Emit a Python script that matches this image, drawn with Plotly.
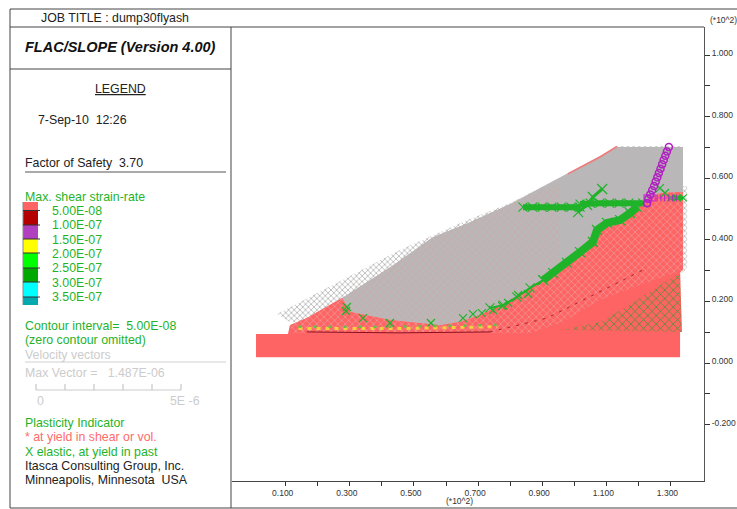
import plotly.graph_objects as go

W, H = 737, 509
FONT = "Liberation Sans"
SALMON = "#ff6464"
GREEN = "#1fb32a"
GRAY = "#b9b7b7"
PURPLE = "#b020c0"

# mesh regions (units of *10^2)
fringe_x = [0.073, 0.456, 0.581, 0.666, 0.80, 0.955, 1.08, 1.133, 1.339, 1.339, 1.352, 1.352, 1.339, 0.80, 0.30, 0.113]
fringe_y = [0.159, 0.367, 0.425, 0.464, 0.519, 0.601, 0.669, 0.705, 0.705, 0.575, 0.575, 0.310, 0.295, 0.20, 0.12, 0.133]
dense_x = [0.276, 0.425, 0.559, 0.666, 0.80, 1.133, 1.339, 1.339, 1.267, 1.214, 1.196, 1.121, 1.071, 1.018, 0.915, 0.809, 0.706, 0.643, 0.581, 0.425, 0.301]
dense_y = [0.211, 0.310, 0.408, 0.453, 0.516, 0.701, 0.701, 0.555, 0.552, 0.523, 0.497, 0.464, 0.432, 0.367, 0.279, 0.205, 0.156, 0.133, 0.123, 0.140, 0.166]
tint_x = [0.276, 0.425, 0.559, 0.666, 0.80, 0.955, 0.955, 0.809, 0.706, 0.643, 0.581, 0.425, 0.301]
tint_y = [0.211, 0.310, 0.408, 0.453, 0.516, 0.585, 0.305, 0.205, 0.156, 0.133, 0.123, 0.140, 0.166]
upper_x = [0.113, 0.166, 0.276, 0.301, 0.425, 0.581, 0.643, 0.706, 0.809, 0.915, 1.018, 1.071, 1.121, 1.196, 1.214, 1.267, 1.339]
upper_y = [0.123, 0.146, 0.211, 0.166, 0.140, 0.123, 0.133, 0.156, 0.205, 0.279, 0.367, 0.432, 0.464, 0.497, 0.523, 0.552, 0.555]
base_x = [0.0074, 0.107] + upper_x + [1.339, 1.330, 1.330, 0.0074]
base_y = [0.094, 0.094] + upper_y + [0.302, 0.295, 0.019, 0.019]
worked_x = upper_x + [1.339, 1.205, 1.080, 0.965, 0.862, 0.120]
worked_y = upper_y + [0.302, 0.253, 0.205, 0.133, 0.097, 0.097]
past_x = [0.965, 1.08, 1.196, 1.33, 1.336]
past_y = [0.107, 0.133, 0.205, 0.295, 0.101]
crest_x = [0.98, 1.08, 1.133]
crest_y = [0.614, 0.669, 0.703]

# green X plasticity marks
band_a_x = [0.84, 0.87, 0.90, 0.93, 0.96, 0.99, 1.018]
band_a_y = [0.506, 0.506, 0.506, 0.506, 0.506, 0.506, 0.506]
band_b_x = [1.018, 1.05, 1.08, 1.11, 1.14, 1.17, 1.214]
band_b_y = [0.516, 0.519, 0.519, 0.519, 0.519, 0.519, 0.519]
band_c_x = [1.30, 1.32, 1.34]
band_c_y = [0.536, 0.536, 0.536]
chain_x = [0.903, 0.934, 0.977, 1.018, 1.058, 1.071, 1.102, 1.143, 1.174, 1.196]
chain_y = [0.269, 0.292, 0.325, 0.360, 0.393, 0.432, 0.455, 0.464, 0.487, 0.506]
chain_low_x = [0.737, 0.778, 0.821, 0.862, 0.903]
chain_low_y = [0.179, 0.188, 0.214, 0.244, 0.269]
branch_x = [1.012, 1.04, 1.058, 1.087]
branch_y = [0.490, 0.513, 0.539, 0.565]
single_x = [0.291, 0.288, 0.341, 0.425, 0.553, 0.653, 0.684, 0.712, 0.747, 0.775, 0.794, 0.825, 0.856, 1.267, 1.283]
single_y = [0.182, 0.169, 0.146, 0.130, 0.130, 0.146, 0.159, 0.162, 0.172, 0.185, 0.195, 0.221, 0.224, 0.568, 0.552]

# contour traces
slip_x = [0.166, 0.45, 0.737]
slip_y = [0.101, 0.098, 0.101]
slip_far_x = [0.737, 0.915, 1.071, 1.214]
slip_far_y = [0.101, 0.146, 0.227, 0.302]
toe_x = [0.14, 0.45, 0.76]
toe_y = [0.112, 0.112, 0.118]
dots_x = [0.14, 0.45, 0.76]
dots_y = [0.118, 0.118, 0.124]

# purple structural elements
cable_x = [1.295, 1.289, 1.284, 1.279, 1.274, 1.269, 1.264, 1.259, 1.254, 1.249, 1.243, 1.237, 1.231, 1.227]
cable_y = [0.701, 0.687, 0.673, 0.659, 0.645, 0.631, 0.617, 0.603, 0.589, 0.575, 0.561, 0.547, 0.533, 0.519]
rod_x = [1.258, 1.27, 1.282, 1.295, 1.307, 1.318]
rod_y = [0.536, 0.536, 0.536, 0.536, 0.536, 0.536]
node_x = [1.227, 1.243, 1.227]
node_y = [0.519, 0.536, 0.536]

# axis ticks
x_ticks = [0.1, 0.2, 0.3, 0.4, 0.5, 0.6, 0.7, 0.8, 0.9, 1.0, 1.1, 1.2, 1.3]
x_labels = ["0.100", "", "0.300", "", "0.500", "", "0.700", "", "0.900", "", "1.100", "", "1.300"]
y_ticks = [-0.2, -0.1, 0.0, 0.1, 0.2, 0.3, 0.4, 0.5, 0.6, 0.7, 0.8, 0.9, 1.0]
y_labels = ["-0.200", "", "0.000", "", "0.200", "", "0.400", "", "0.600", "", "0.800", "", "1.000"]

# legend
legend_labels = ["5.00E-08", "1.00E-07", "1.50E-07", "2.00E-07", "2.50E-07", "3.00E-07", "3.50E-07"]
legend_colors = ["#ff6464", "#b40000", "#b040c0", "#ffff00", "#00ff00", "#00a800", "#00ffff", "#00a8b0"]


def px(x):
    return x / W


def py(y):
    return 1 - y / H


fig = go.Figure()


def region(xs, ys, bg, fg=None, size=6, solidity=0.3, opacity=1):
    kw = dict(x=xs, y=ys, mode="lines", fill="toself", line=dict(width=0), fillcolor=bg, hoverinfo="skip")
    if fg:
        kw["fillpattern"] = dict(shape="x", bgcolor=bg, fgcolor=fg, size=size, solidity=solidity, fgopacity=opacity)
    fig.add_trace(go.Scatter(**kw))


region(fringe_x, fringe_y, "#ffffff", "#bababa", 4, 0.4)
region(dense_x, dense_y, GRAY)
region(tint_x, tint_y, GRAY, "#e09c9c", 5, 0.18, 0.8)
region(base_x, base_y, SALMON)
region(worked_x, worked_y, SALMON, "#e8a4a4", 5, 0.22)
region(past_x, past_y, SALMON, "#18a020", 6, 0.2)
fig.add_trace(go.Scatter(x=crest_x, y=crest_y, mode="lines", line=dict(color="#f07a7a", width=1.5), hoverinfo="skip"))


def xmarks(xs, ys, width, size):
    fig.add_trace(go.Scatter(x=xs, y=ys, mode="lines+markers" if width else "markers",
                             line=dict(color=GREEN, width=width),
                             marker=dict(symbol="x-thin", size=size, line=dict(color=GREEN, width=1.2), color=GREEN),
                             hoverinfo="skip"))


xmarks(band_a_x, band_a_y, 6, 9)
xmarks(band_b_x, band_b_y, 6, 9)
xmarks(band_c_x, band_c_y, 4, 7)
xmarks(chain_x, chain_y, 8, 10)
xmarks(chain_low_x, chain_low_y, 2, 9)
xmarks(branch_x, branch_y, 3, 10)
xmarks(single_x, single_y, 0, 8)

fig.add_trace(go.Scatter(x=toe_x, y=toe_y, mode="lines", line=dict(color="#f2d23c", width=3, dash="4px,5px"), hoverinfo="skip"))
fig.add_trace(go.Scatter(x=dots_x, y=dots_y, mode="lines", line=dict(color="#62c04a", width=2.5, dash="3px,12px"), hoverinfo="skip"))
fig.add_trace(go.Scatter(x=slip_x, y=slip_y, mode="lines", line=dict(color="#8c0c1c", width=1), hoverinfo="skip"))
fig.add_trace(go.Scatter(x=slip_far_x, y=slip_far_y, mode="lines", line=dict(color="#b01c2c", width=1, dash="3px,6px"), hoverinfo="skip"))
fig.add_trace(go.Scatter(x=rod_x, y=rod_y, mode="lines+markers", line=dict(color="#e040e0", width=1),
                         marker=dict(symbol="line-ns", size=5, line=dict(color=PURPLE, width=1)), hoverinfo="skip"))
fig.add_trace(go.Scatter(x=node_x, y=node_y, mode="markers",
                         marker=dict(symbol="square-open", size=6, color="#d030d0", line=dict(width=1.2)), hoverinfo="skip"))
fig.add_trace(go.Scatter(x=cable_x, y=cable_y, mode="markers",
                         marker=dict(symbol="circle-open", size=7, color=PURPLE, line=dict(width=1.5)), hoverinfo="skip"))

shapes = []


def line(x0, y0, x1, y1, color="#444444", width=1):
    shapes.append(dict(type="line", xref="paper", yref="paper", x0=px(x0), y0=py(y0), x1=px(x1), y1=py(y1),
                       line=dict(color=color, width=width)))


line(10, 9, W, 9)
line(10, 9, 10, 508)
line(10, 508, W, 508)
line(10, 27, 704, 27)
line(231, 27, 231, 508)
line(10, 69, 231, 69)
line(25, 172, 226, 172, "#555555")
line(25, 362, 226, 362, "#d0d0d0")
line(36, 390, 181, 390, "#cccccc")
for tx in (36, 65, 94, 123, 152, 181):
    line(tx, 384, tx, 390, "#bbbbbb")

edges = [202, 210.5, 225, 239, 253, 268, 282, 297, 305]
for i, c in enumerate(legend_colors):
    shapes.append(dict(type="rect", xref="paper", yref="paper", x0=px(23), x1=px(38), y0=py(edges[i + 1]), y1=py(edges[i]),
                       fillcolor=c, line=dict(width=0)))
line(23, 202, 23, 305, "#888888")
for e in edges[1:-1]:
    line(23, e, 40, e, "#333333")

notes = []
BODY = 12.35


def text(x, y, s, color="#222222", size=BODY, anchor="left"):
    notes.append(dict(xref="paper", yref="paper", x=px(x), y=py(y), text=s, showarrow=False, xanchor=anchor, yanchor="middle",
                      font=dict(family=FONT, size=size, color=color), borderpad=0, borderwidth=0))


text(40.5, 18, "JOB TITLE : dump30flyash")
text(25, 47, "<b><i>FLAC/SLOPE (Version 4.00)</i></b>", "#111111", 14.5)
text(95, 89, "<u>LEGEND</u>")
text(38, 120, "7-Sep-10\u00a0\u00a012:26")
text(25, 163, "Factor of Safety\u00a0\u00a03.70")
text(24.5, 197, "Max. shear strain-rate", GREEN)
for lab, yy in zip(legend_labels, [211, 225, 240, 254, 268, 283, 297]):
    text(52, yy, lab, GREEN)
text(25, 326, "Contour interval=\u00a0\u00a05.00E-08", GREEN)
text(25, 340, "(zero contour omitted)", GREEN)
text(25, 355, "Velocity vectors", "#cccccc")
text(25, 373, "Max Vector =\u00a0\u00a0\u00a01.487E-06", "#cccccc")
text(40, 401, "0", "#cccccc", BODY, "center")
text(170, 401, "5E -6", "#cccccc")
text(25, 423, "Plasticity Indicator", GREEN)
text(25, 437, "* at yield in shear or vol.", "#ff6b6b")
text(25, 452, "X elastic, at yield in past", GREEN)
text(25, 466, "Itasca Consulting Group, Inc.")
text(25, 480, "Minneapolis, Minnesota\u00a0\u00a0USA")
text(710, 20, "(*10^2)", "#333333", 8.5)
text(459, 501, "(*10^2)", "#333333", 8.5, "center")

fig.update_layout(
    width=W, height=H, margin=dict(l=0, r=0, t=0, b=0), paper_bgcolor="white", plot_bgcolor="white",
    showlegend=False, hovermode=False, shapes=shapes, annotations=notes,
    xaxis=dict(domain=[px(232), px(704)], range=[-0.0675, 1.4046], tickmode="array", tickvals=x_ticks, ticktext=x_labels,
               ticks="outside", ticklen=4, tickcolor="#333333", showgrid=False, zeroline=False, showline=True,
               linecolor="#444444", tickfont=dict(family=FONT, size=8.5, color="#333333"), ticklabelshift=-3, fixedrange=True),
    yaxis=dict(domain=[py(481), py(27)], range=[-0.383, 1.091], side="right", tickmode="array", tickvals=y_ticks, ticktext=y_labels,
               ticks="outside", ticklen=5, tickcolor="#333333", showgrid=False, zeroline=False, showline=True,
               linecolor="#555555", tickfont=dict(family=FONT, size=8.5, color="#333333"), ticklabelshift=-2, fixedrange=True),
)

fig.write_html("out.html", post_script="document.body.style.margin='0';", config=dict(displayModeBar=False))
